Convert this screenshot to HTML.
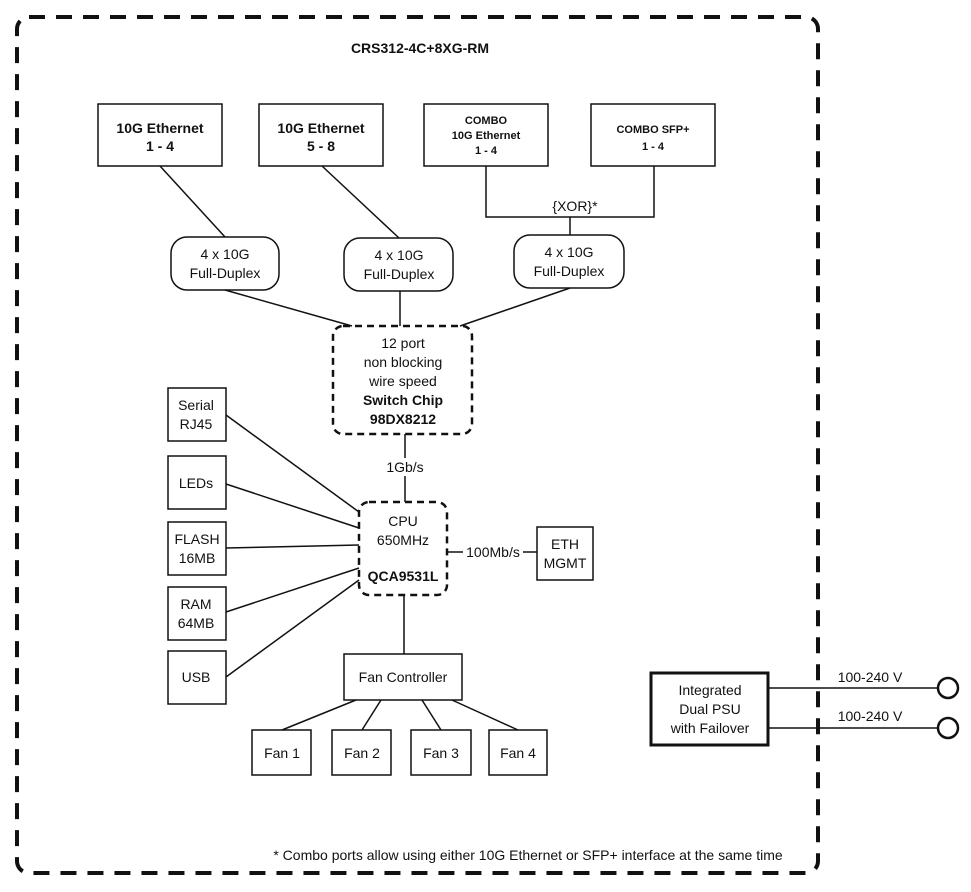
<!DOCTYPE html>
<html><head><meta charset="utf-8"><style>
html,body{margin:0;padding:0;background:#fff;}
svg{display:block;}
text{font-family:"Liberation Sans",Arial,sans-serif;fill:#111;font-size:14px;text-anchor:middle;}
.b{font-weight:bold;}
</style></head><body>
<svg width="971" height="892" viewBox="0 0 971 892" xmlns="http://www.w3.org/2000/svg">
<rect width="971" height="892" fill="#fff"/>
<g fill="none" stroke="#111">
<rect x="17" y="17" width="801" height="856" rx="12" stroke-width="4" stroke-dasharray="16,11"/>
<g stroke-width="1.5">
<rect x="98" y="104" width="124" height="62"/>
<rect x="259" y="104" width="124" height="62"/>
<rect x="424" y="104" width="124" height="62"/>
<rect x="591" y="104" width="124" height="62"/>
<polyline points="486,166 486,217 654,217 654,166"/>
<line x1="570" y1="217" x2="570" y2="235"/>
<rect x="171" y="237" width="108" height="53" rx="16"/>
<rect x="344" y="238" width="109" height="53" rx="16"/>
<rect x="514" y="235" width="110" height="53" rx="16"/>
<line x1="160" y1="166" x2="225" y2="237"/>
<line x1="322" y1="166" x2="399" y2="238"/>
<line x1="225" y1="290" x2="352" y2="326"/>
<line x1="400" y1="291" x2="400" y2="326"/>
<line x1="570" y1="288" x2="460" y2="326"/>
<line x1="405" y1="434" x2="405" y2="458"/>
<line x1="405" y1="476" x2="405" y2="502"/>
<rect x="168" y="388" width="58" height="53"/>
<rect x="168" y="456" width="58" height="53"/>
<rect x="168" y="522" width="58" height="53"/>
<rect x="168" y="587" width="58" height="53"/>
<rect x="168" y="651" width="58" height="53"/>
<line x1="226" y1="415" x2="359" y2="512"/>
<line x1="226" y1="484" x2="359" y2="528"/>
<line x1="226" y1="548" x2="359" y2="545"/>
<line x1="226" y1="612" x2="359" y2="568"/>
<line x1="226" y1="677" x2="359" y2="580"/>
<rect x="537" y="527" width="56" height="53"/>
<line x1="447" y1="552" x2="463" y2="552"/>
<line x1="523" y1="552" x2="537" y2="552"/>
<line x1="404" y1="595" x2="404" y2="654"/>
<rect x="344" y="654" width="118" height="46"/>
<rect x="252" y="730" width="59" height="45"/>
<rect x="332" y="730" width="59" height="45"/>
<rect x="411" y="730" width="60" height="45"/>
<rect x="489" y="730" width="58" height="45"/>
<line x1="356" y1="700" x2="282" y2="730"/>
<line x1="381" y1="700" x2="362" y2="730"/>
<line x1="422" y1="700" x2="441" y2="730"/>
<line x1="452" y1="700" x2="518" y2="730"/>
<line x1="768" y1="688" x2="938" y2="688"/>
<line x1="768" y1="728" x2="938" y2="728"/>
</g>
<g stroke-width="2.5" stroke-dasharray="7,5">
<rect x="333" y="326" width="139" height="108" rx="10"/>
<rect x="359" y="502" width="88" height="93" rx="10"/>
</g>
<rect x="651" y="673" width="117" height="72" stroke-width="3"/>
<circle cx="948" cy="688" r="10" stroke-width="2.5"/>
<circle cx="948" cy="728" r="10" stroke-width="2.5"/>
</g>
<text x="420" y="53" class="b">CRS312-4C+8XG-RM</text>
<text x="160" y="133" class="b">10G Ethernet</text><text x="160" y="151" class="b">1 - 4</text>
<text x="321" y="133" class="b">10G Ethernet</text><text x="321" y="151" class="b">5 - 8</text>
<text x="486" y="124" class="b" style="font-size:11px">COMBO</text>
<text x="486" y="139" class="b" style="font-size:11px">10G Ethernet</text>
<text x="486" y="154" class="b" style="font-size:11px">1 - 4</text>
<text x="653" y="133" class="b" style="font-size:11px">COMBO SFP+</text>
<text x="653" y="150" class="b" style="font-size:11px">1 - 4</text>
<text x="575" y="211">{XOR}*</text>
<text x="225" y="259">4 x 10G</text><text x="225" y="278">Full-Duplex</text>
<text x="399" y="260">4 x 10G</text><text x="399" y="279">Full-Duplex</text>
<text x="569" y="257">4 x 10G</text><text x="569" y="276">Full-Duplex</text>
<text x="403" y="348">12 port</text>
<text x="403" y="367">non blocking</text>
<text x="403" y="386">wire speed</text>
<text x="403" y="405" class="b">Switch Chip</text>
<text x="403" y="424" class="b">98DX8212</text>
<text x="405" y="472">1Gb/s</text>
<text x="403" y="526">CPU</text>
<text x="403" y="545">650MHz</text>
<text x="403" y="581" class="b">QCA9531L</text>
<text x="493" y="557">100Mb/s</text>
<text x="565" y="549">ETH</text><text x="565" y="568">MGMT</text>
<text x="196" y="410">Serial</text><text x="196" y="429">RJ45</text>
<text x="196" y="488">LEDs</text>
<text x="197" y="544">FLASH</text><text x="197" y="563">16MB</text>
<text x="196" y="609">RAM</text><text x="196" y="628">64MB</text>
<text x="196" y="682">USB</text>
<text x="403" y="682">Fan Controller</text>
<text x="282" y="758">Fan 1</text>
<text x="362" y="758">Fan 2</text>
<text x="441" y="758">Fan 3</text>
<text x="518" y="758">Fan 4</text>
<text x="710" y="695">Integrated</text>
<text x="710" y="714">Dual PSU</text>
<text x="710" y="733">with Failover</text>
<text x="870" y="682">100-240 V</text>
<text x="870" y="721">100-240 V</text>
<text x="528" y="860">* Combo ports allow using either 10G Ethernet or SFP+ interface at the same time</text>
</svg>
</body></html>
